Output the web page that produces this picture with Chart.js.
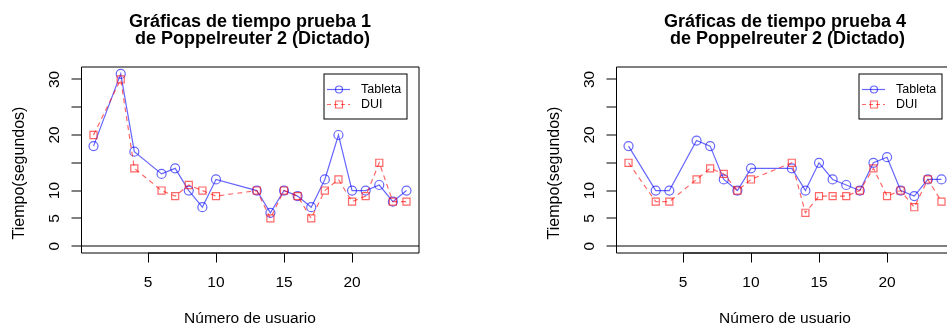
<!DOCTYPE html>
<html>
<head>
<meta charset="utf-8">
<script src="https://cdn.jsdelivr.net/npm/chart.js@4"></script>
<style>
  body { margin: 0; background: #fff; }
  #wrap { position: relative; width: 947px; height: 325px; overflow: hidden; background: #fff; }
  canvas { position: absolute; top: 0; }
</style>
</head>
<body>
<div id="wrap">
  <canvas id="prueba1" width="535" height="325" style="left:0px"></canvas>
  <canvas id="prueba4" width="535" height="325" style="left:535px"></canvas>
</div>
<script>
// users that took the test (2, 5, 11, 12 missing)
const users = [1, 3, 4, 6, 7, 8, 9, 10, 13, 14, 15, 16, 17, 18, 19, 20, 21, 22, 23, 24];

// prueba 1
const tabletaP1 = [18, 31, 17, 13, 14, 10, 7, 12, 10, 6, 10, 9, 7, 12, 20, 10, 10, 11, 8, 10];
const duiP1 = [20, 30, 14, 10, 9, 11, 10, 9, 10, 5, 10, 9, 5, 10, 12, 8, 9, 15, 8, 8];

// prueba 4
const tabletaP4 = [18, 10, 10, 19, 18, 12, 10, 14, 14, 10, 15, 12, 11, 10, 15, 16, 10, 9, 12, 12];
const duiP4 = [15, 8, 8, 12, 14, 13, 10, 12, 15, 6, 9, 9, 9, 10, 14, 9, 10, 7, 12, 8];

const xTicks = [5, 10, 15, 20];
const yTicks = [0, 5, 10, 15, 20, 25, 30];
const yTickLabels = ["0", "5", "10", "", "20", "", "30"];

const BLUE = "rgba(0, 0, 255, 0.6)";
const RED = "rgba(255, 0, 0, 0.6)";
const FONT = "'Liberation Sans', Arial, sans-serif";

function toPoints(values) {
    return users.map((u, i) => ({ x: u, y: values[i] }));
}

// R style frame, axes, titles and legend
const rStyle = {
    id: "rStyle",
    beforeDatasetsDraw(chart) {
        const ctx = chart.ctx;
        const a = chart.chartArea;
        const xs = chart.scales.x;
        const ys = chart.scales.y;
        ctx.save();
        ctx.strokeStyle = "#000";
        ctx.lineWidth = 1;

        // box
        ctx.beginPath();
        ctx.moveTo(a.left + 0.5, a.top);
        ctx.lineTo(a.right, a.top);
        ctx.lineTo(a.right, a.bottom);
        ctx.lineTo(a.left + 0.5, a.bottom);
        ctx.closePath();
        ctx.stroke();

        // abline h = 0
        const y0 = Math.round(ys.getPixelForValue(0));
        ctx.beginPath();
        ctx.moveTo(a.left, y0);
        ctx.lineTo(a.right, y0);
        ctx.stroke();

        // y axis
        ctx.beginPath();
        ctx.moveTo(a.left + 0.5, ys.getPixelForValue(yTicks[0]));
        ctx.lineTo(a.left + 0.5, ys.getPixelForValue(yTicks[yTicks.length - 1]));
        yTicks.forEach((t) => {
            const py = Math.round(ys.getPixelForValue(t));
            ctx.moveTo(a.left, py);
            ctx.lineTo(a.left - 9.5, py);
        });
        ctx.stroke();

        ctx.fillStyle = "#000";
        ctx.font = "15.5px " + FONT;
        ctx.textAlign = "center";
        ctx.textBaseline = "alphabetic";
        yTicks.forEach((t, i) => {
            if (!yTickLabels[i]) return;
            ctx.save();
            ctx.translate(a.left - 22, ys.getPixelForValue(t));
            ctx.rotate(-Math.PI / 2);
            ctx.fillText(yTickLabels[i], 0, 0);
            ctx.restore();
        });

        // x axis
        ctx.beginPath();
        ctx.moveTo(xs.getPixelForValue(xTicks[0]), a.bottom);
        ctx.lineTo(xs.getPixelForValue(xTicks[xTicks.length - 1]), a.bottom);
        xTicks.forEach((t) => {
            const px = Math.round(xs.getPixelForValue(t)) + 0.5;
            ctx.moveTo(px, a.bottom);
            ctx.lineTo(px, a.bottom + 9.5);
        });
        ctx.stroke();
        xTicks.forEach((t) => {
            ctx.fillText(String(t), xs.getPixelForValue(t), a.bottom + 34);
        });

        // axis titles
        ctx.font = "15.5px " + FONT;
        ctx.fillText("Número de usuario", (a.left + a.right) / 2, 323);
        ctx.save();
        ctx.translate(23.5, 173);
        ctx.rotate(-Math.PI / 2);
        ctx.font = "16px " + FONT;
        ctx.fillText("Tiempo(segundos)", 0, 0);
        ctx.restore();
        ctx.restore();
    },
    afterDraw(chart, args, opts) {
        const ctx = chart.ctx;
        const a = chart.chartArea;
        const xs = chart.scales.x;
        const ys = chart.scales.y;
        ctx.save();

        // main title
        ctx.fillStyle = "#000";
        ctx.font = "bold 18px " + FONT;
        ctx.textAlign = "center";
        ctx.textBaseline = "alphabetic";
        const cx = (a.left + a.right) / 2;
        ctx.fillText(opts.title[0], cx, 27);
        ctx.fillText(opts.title[1], cx, 44);

        // legend, top right corner at the data corner
        const right = Math.round(xs.getPixelForValue(24)) + 1;
        const top = Math.round(ys.getPixelForValue(31));
        const w = 83, h = 45;
        const left = right - w;
        ctx.strokeStyle = "#000";
        ctx.lineWidth = 1;
        ctx.strokeRect(left, top, w, h);

        const rows = [
            { label: "Tableta", color: BLUE, dash: [], shape: "circle", y: top + 15.5 },
            { label: "DUI", color: RED, dash: [4, 3], shape: "rect", y: top + 30.5 }
        ];
        rows.forEach((r) => {
            ctx.strokeStyle = r.color;
            ctx.lineWidth = 1.2;
            ctx.setLineDash(r.dash);
            ctx.beginPath();
            ctx.moveTo(left + 3, r.y);
            ctx.lineTo(left + 26, r.y);
            ctx.stroke();
            ctx.setLineDash([]);
            ctx.beginPath();
            if (r.shape === "circle") {
                ctx.arc(left + 15, r.y, 3.5, 0, Math.PI * 2);
            } else {
                ctx.rect(left + 11.5, r.y - 3.5, 7, 7);
            }
            ctx.stroke();
            ctx.fillStyle = "#000";
            ctx.font = "12.5px " + FONT;
            ctx.textAlign = "left";
            ctx.textBaseline = "middle";
            ctx.fillText(r.label, left + 37, r.y + 0.5);
        });
        ctx.restore();
    }
};

function makeChart(id, title, tableta, dui) {
    const data = {
        datasets: [{
            label: "Tableta",
            data: toPoints(tableta),
            borderColor: BLUE,
            backgroundColor: "rgba(0,0,0,0)",
            borderWidth: 1.2,
            pointStyle: "circle",
            pointRadius: 4.5,
            pointBorderColor: BLUE,
            pointBorderWidth: 1.2,
            tension: 0,
            order: 1
        },
        {
            label: "DUI",
            data: toPoints(dui),
            borderColor: RED,
            backgroundColor: "rgba(0,0,0,0)",
            borderWidth: 1.2,
            borderDash: [5, 4],
            pointStyle: "rect",
            pointRadius: 5,
            pointBorderColor: RED,
            pointBorderWidth: 1.2,
            tension: 0,
            order: 0
        }]
    };

    const config = {
        type: "line",
        data: data,
        options: {
            responsive: false,
            animation: false,
            devicePixelRatio: 1,
            layout: { padding: { left: 81, right: 116, top: 67, bottom: 72 } },
            scales: {
                x: { type: "linear", min: 0.08, max: 24.92, display: false },
                y: { type: "linear", min: -1.24, max: 32.24, display: false }
            },
            plugins: {
                legend: { display: false },
                tooltip: { enabled: false },
                rStyle: { title: title }
            }
        },
        plugins: [rStyle]
    };

    return new Chart(document.getElementById(id), config);
}

makeChart("prueba1", ["Gráficas de tiempo prueba 1", " de Poppelreuter 2 (Dictado)"], tabletaP1, duiP1);
makeChart("prueba4", ["Gráficas de tiempo prueba 4", " de Poppelreuter 2 (Dictado)"], tabletaP4, duiP4);
</script>
</body>
</html>
